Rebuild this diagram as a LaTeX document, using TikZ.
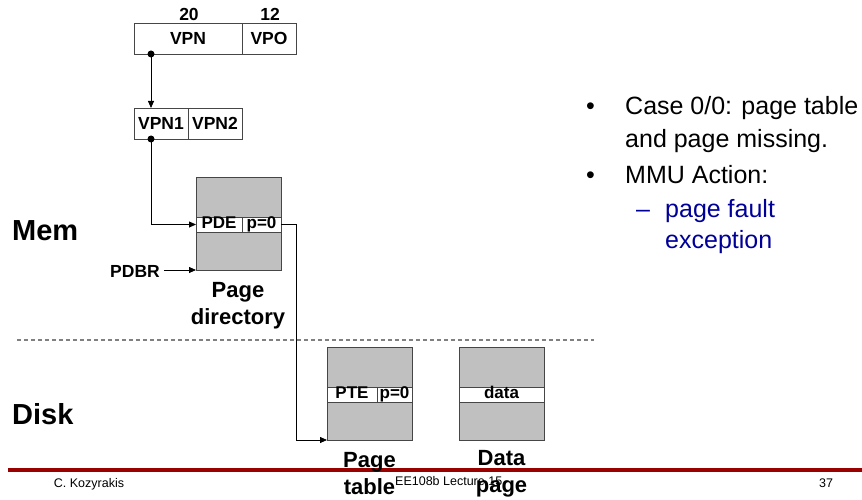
\documentclass[tikz,border=0pt]{standalone}
\usepackage{fontspec}
\setmainfont{Liberation Sans}
\usetikzlibrary{arrows.meta}
\definecolor{boxgray}{RGB}{192,192,192}
\definecolor{footred}{RGB}{153,0,0}
\definecolor{bluetext}{RGB}{0,0,153}
\definecolor{edgegray}{RGB}{70,70,70}
\begin{document}
\begin{tikzpicture}[x=1pt,y=-1pt,
  cell/.style={draw=edgegray, line width=0.8pt, fill=white, inner sep=0pt, outer sep=0pt,
    minimum height=31pt, anchor=north west, font=\bfseries\fontsize{17.5}{17.5}\selectfont},
  rowcell/.style={draw=edgegray, line width=0.8pt, fill=white, inner sep=0pt, outer sep=0pt,
    minimum height=15pt, text height=11pt, text depth=3pt, anchor=north west,
    font=\bfseries\fontsize{17}{17}\selectfont},
  mem/.style={draw=edgegray, line width=0.8pt, fill=boxgray, inner sep=0pt, outer sep=0pt,
    minimum width=85pt, minimum height=93pt, anchor=north west},
  lbl/.style={align=center, inner sep=0pt, font=\bfseries\fontsize{22}{27}\selectfont},
  small/.style={inner sep=0pt, font=\bfseries\fontsize{17.5}{17.5}\selectfont},
  big/.style={inner sep=0pt, anchor=base west, font=\bfseries\fontsize{29}{29}\selectfont},
  bul/.style={inner sep=0pt, anchor=base west, font=\fontsize{25}{25}\selectfont},
  foot/.style={inner sep=0pt, font=\fontsize{12.5}{12.5}\selectfont},
  arr/.style={draw=black, line width=0.8pt, -{Triangle[length=7pt,width=6pt]}},
  dot/.style={fill=black}
]
\useasboundingbox (0,0) rectangle (862,500);

% footer
\draw[footred, line width=4.5pt] (8,470) -- (862,470);
\node[foot] (author) at (89,484) {C. Kozyrakis};
\node[foot, anchor=west] (lecture) at (395,481) {EE108b Lecture 15};
\node[foot] (pagenum) at (826,483) {37};

% virtual address
\node[cell, minimum width=108pt] (vpn) at (134,23) {VPN};
\node[cell, minimum width=54pt] (vpo) at (242,23) {VPO};
\node[small] (n20) at (189,14) {20};
\node[small] (n12) at (270,14) {12};

\node[cell, minimum width=54pt] (vpnone) at (134,108) {VPN1};
\node[cell, minimum width=54pt] (vpntwo) at (188,108) {VPN2};

% page directory
\node[mem] (pdir) at (196,177) {};
\node[rowcell, minimum width=46pt] (pde) at (196,217) {PDE};
\node[rowcell, minimum width=39pt] (pdp) at (242,217) {p=0};
\node[lbl] (pdirlbl) at (238,306) {Page\\directory};

% page table
\node[mem] (ptbl) at (327,347) {};
\node[rowcell, minimum width=50pt] (pte) at (327,387) {PTE};
\node[rowcell, minimum width=35pt] (ptp) at (377,387) {p=0};

% data page
\node[mem] (dpg) at (459,347) {};
\node[rowcell, minimum width=85pt] (drow) at (459,387) {data};

% PDBR
\node[small] (pdbr) at (135,271) {PDBR};

% connectors
\draw[arr] (vpn.south west) ++(17,0) coordinate (d1) -- (d1 |- vpnone.north);
\fill[dot] (d1) circle (3.5pt);
\draw[arr] (vpnone.south west) ++(17,0) coordinate (d2) -- (d2 |- pde.west) -- (pde.west);
\fill[dot] (d2) circle (3.5pt);
\draw[arr] (pdbr.east |- pdir.south) ++(4,0) -- (pdir.south west);
\draw[arr] (pdp.east) -- ++(15,0) coordinate (c1) -- (c1 |- ptbl.south west) -- (ptbl.south west);

% labels drawn over footer text
\node[lbl] (ptlbl) at (369.5,473.5) {Page\\table};
\node[lbl] (dplbl) at (501.5,473.5) {Data\\page};

% divider
\draw[gray, line width=1.3pt, dash pattern=on 4pt off 3pt] (17,340) -- (594,340);

\node[big] (memlbl) at (12,240) {Mem};
\node[big] (disklbl) at (12,424) {Disk};

% bullets
\node[bul] (b1) at (586,115) {•};
\node[bul] (t1) at (625,115) {Case 0/0: page table};
\node[bul] (t2) at (625,147) {and page missing.};
\node[bul] (b2) at (586,183) {•};
\node[bul] (t3) at (625,183) {MMU Action:};
\node[bul, text=bluetext] (b3) at (636,217) {–};
\node[bul, text=bluetext] (t4) at (665,217) {page fault};
\node[bul, text=bluetext] (t5) at (665,248) {exception};
\end{tikzpicture}
\end{document}
